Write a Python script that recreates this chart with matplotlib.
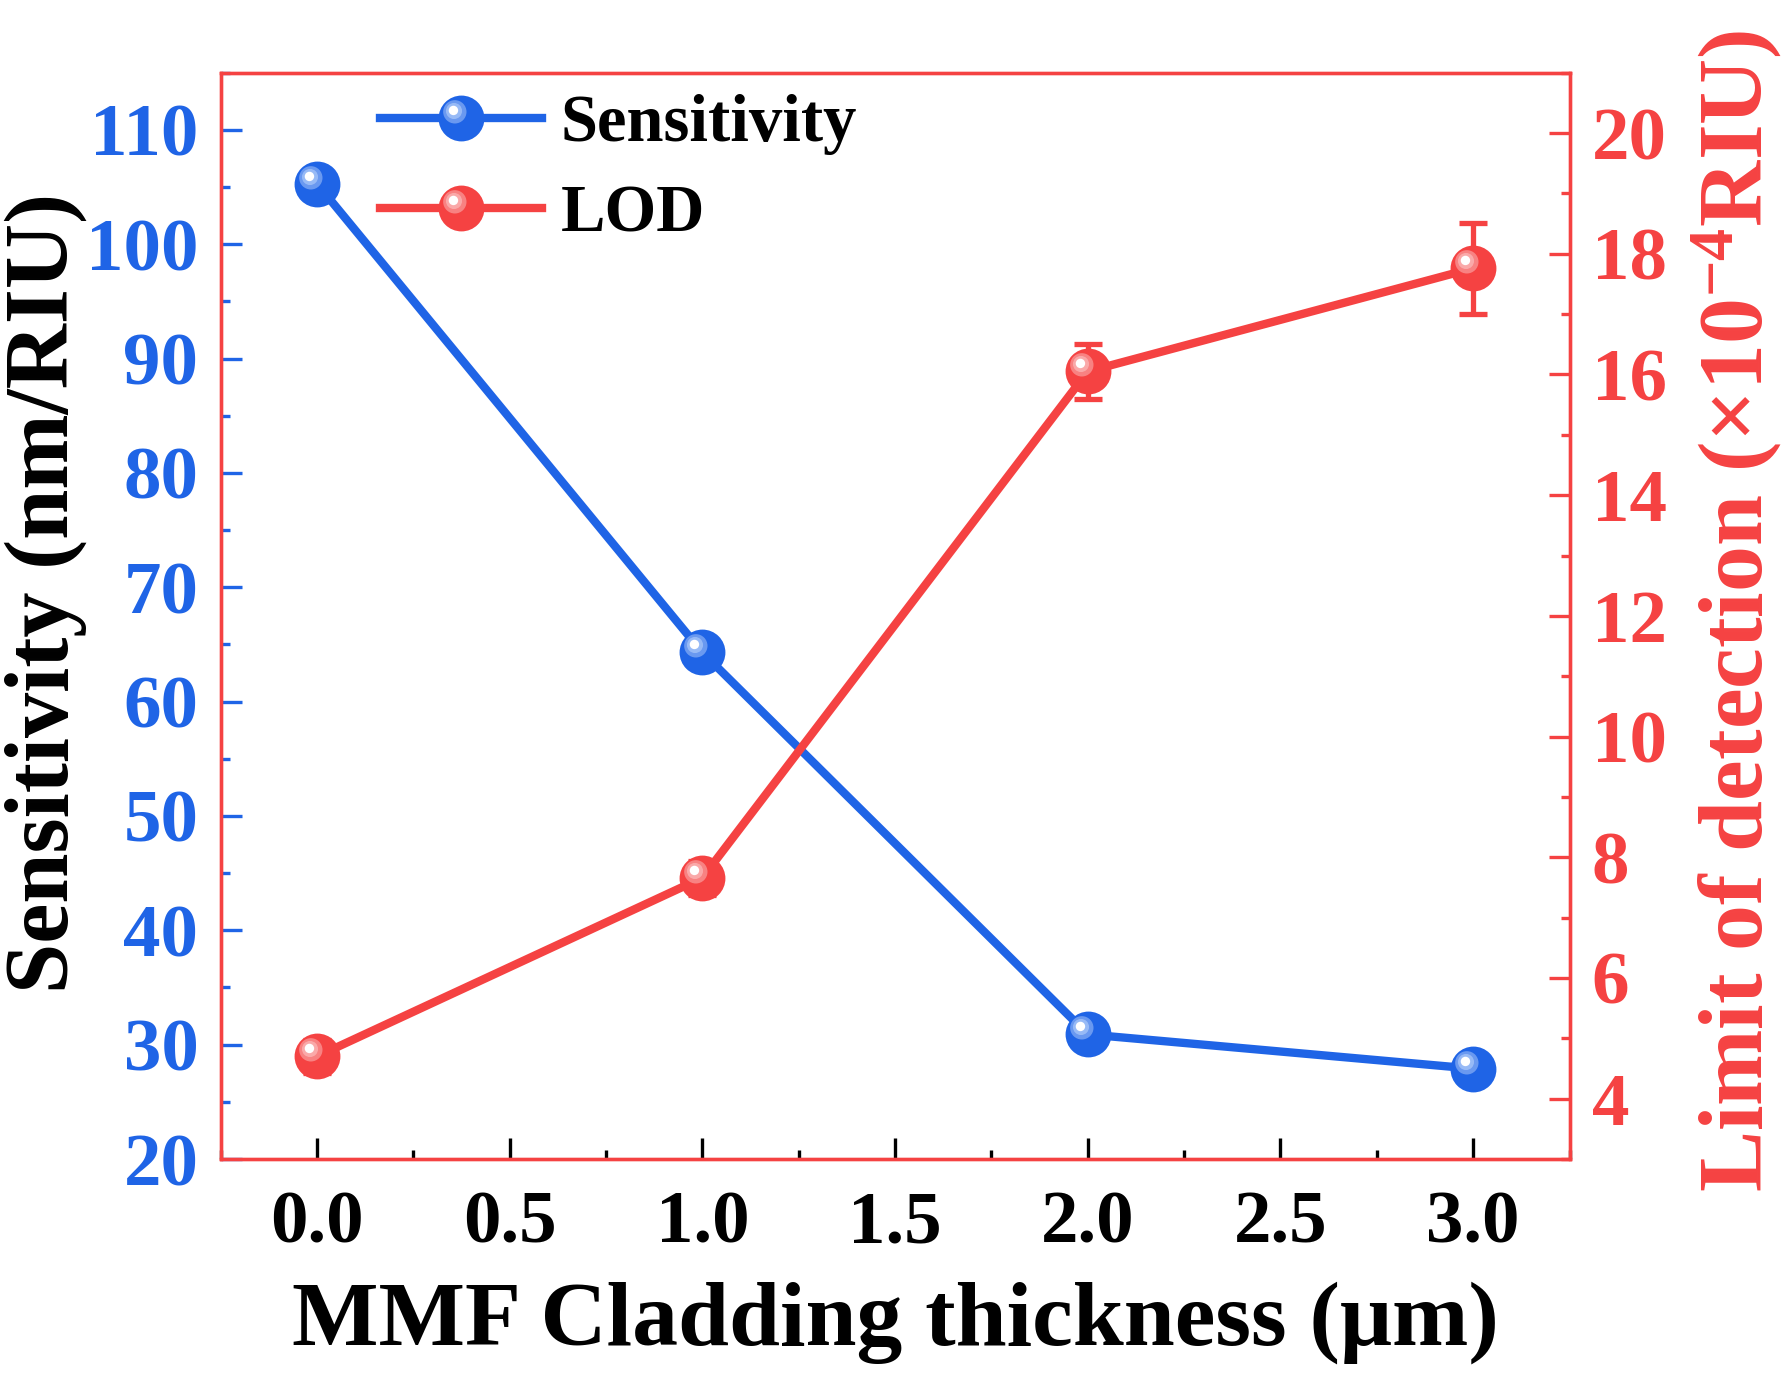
import numpy as np
import matplotlib.pyplot as plt
from matplotlib.path import Path
from matplotlib.legend_handler import HandlerTuple
from matplotlib.ticker import MultipleLocator

# datos
thickness = [0.0, 1.0, 2.0, 3.0]
sensitivity = [105.3, 64.3, 30.9, 27.9]
lod = [4.70, 7.66, 16.05, 17.76]
lod_err = [0.28, 0.28, 0.46, 0.75]

blue = '#1F64E6'
red = '#F54242'

plt.rcParams['font.family'] = ['Liberation Serif', 'DejaVu Serif']
plt.rcParams['font.weight'] = 'bold'
plt.rcParams['axes.labelweight'] = 'bold'
plt.rcParams['mathtext.fontset'] = 'custom'
plt.rcParams['mathtext.rm'] = 'Liberation Serif:bold'
plt.rcParams['mathtext.bf'] = 'Liberation Serif:bold'
plt.rcParams['mathtext.it'] = 'Liberation Serif:bold'


def sphere(axis, x, y, color, light, ms=16.5):
    #marcador con brillo tipo esfera (circulo desplazado arriba-izquierda)
    main, = axis.plot(x, y, '-o', color=color, lw=3.0, ms=ms, mew=0, zorder=3)
    glow, = axis.plot(x, y, ls='none', marker=Path.circle((-2.4, 2.4), 4.2),
                      ms=2 * (2.4 + 4.2), color=light, mew=0, alpha=0.6, zorder=4)
    glow2, = axis.plot(x, y, ls='none', marker=Path.circle((-2.7, 2.7), 2.9),
                       ms=2 * (2.7 + 2.9), color=light, mew=0, alpha=0.9, zorder=4)
    spot, = axis.plot(x, y, ls='none', marker=Path.circle((-2.9, 2.9), 1.7),
                      ms=2 * (2.9 + 1.7), color='white', mew=0, zorder=5)
    return (main, glow, glow2, spot)


fig = plt.figure(figsize=(8.94, 6.885), dpi=200)
ax = fig.add_axes([0.1234, 0.1583, 0.7544, 0.7889])
ax2 = ax.twinx()

s_handle = sphere(ax, thickness, sensitivity, blue, '#9DBEF7')
ax2.errorbar(thickness, lod, yerr=lod_err, fmt='none', ecolor=red,
             elinewidth=1.9, capsize=4.9, capthick=1.9, zorder=2.5)
l_handle = sphere(ax2, thickness, lod, red, '#FBAEAE')

ax.set_xlim(-0.25, 3.25)
ax.set_ylim(20, 115)
ax2.set_ylim(3, 21)
ax.xaxis.set_major_locator(MultipleLocator(0.5))
ax.xaxis.set_minor_locator(MultipleLocator(0.25))
ax.yaxis.set_major_locator(MultipleLocator(10))
ax.yaxis.set_minor_locator(MultipleLocator(5))
ax2.yaxis.set_major_locator(MultipleLocator(2))
ax2.yaxis.set_minor_locator(MultipleLocator(1))

for a in (ax, ax2):
    for sp in a.spines.values():
        sp.set_color(red)
        sp.set_linewidth(1.2)
    a.tick_params(which='both', direction='in', width=1.2, labelsize=27, pad=8.0)
    a.tick_params(which='major', length=7.5)
    a.tick_params(which='minor', length=3.4)

ax.tick_params(axis='x', which='both', colors='black', pad=11.5)
ax.tick_params(axis='y', which='both', colors=blue)
ax2.tick_params(axis='y', which='both', colors=red)

ax.set_xlabel('MMF Cladding thickness (μm)', fontsize=33, labelpad=8)
ax.set_ylabel('Sensitivity (nm/RIU)', fontsize=32.5, color='black')
ax.yaxis.set_label_coords(-0.099, 0.521)
ax2.set_ylabel('Limit of detection (×10$^{-4}$RIU)', fontsize=33, color=red)
ax2.yaxis.set_label_coords(1.089, 0.505)

ax2.legend(handles=[s_handle, l_handle], labels=['Sensitivity', 'LOD'],
           handler_map={tuple: HandlerTuple(ndivide=1, pad=0)},
           loc='upper left', bbox_to_anchor=(0.118, 0.98), frameon=False,
           fontsize=24, handlelength=2.43, handletextpad=0.28,
           borderpad=0, borderaxespad=0, labelspacing=0.44)

fig.savefig('out.png', dpi=200)
